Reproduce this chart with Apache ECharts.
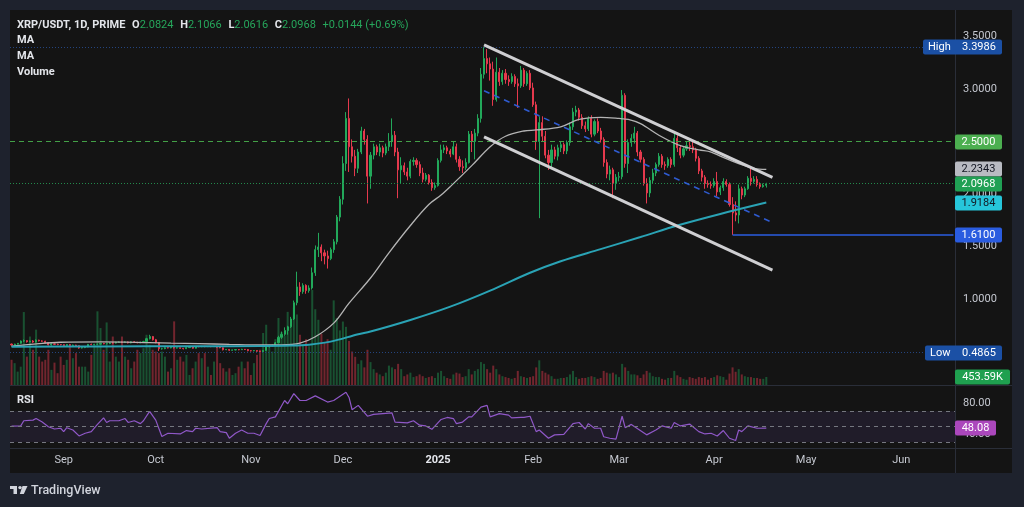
<!DOCTYPE html>
<html><head><meta charset="utf-8">
<script src="https://cdn.jsdelivr.net/npm/echarts@6/dist/echarts.min.js"></script>
<style>
html,body{margin:0;padding:0;background:#1e222d;width:1024px;height:507px;overflow:hidden}
#panel{position:absolute;left:10px;top:10px;width:1002px;height:463px;background:#141414}
#c{position:absolute;left:0;top:0;width:1024px;height:507px}
</style></head><body><div id="panel"></div><div id="c"></div>
<script>
// ---------------- DATA ----------------
const startDate = '2024-08-15';
const totalDays = 308; // categories shown on the time axis (incl. empty future days)
const monthNames = ['Jan','Feb','Mar','Apr','May','Jun','Jul','Aug','Sep','Oct','Nov','Dec'];

// daily candles [open, close, low, high], 2024-08-15 .. 2025-04-18
const ohlc = [
[0.571,0.562,0.556,0.575],[0.562,0.570,0.558,0.574],[0.570,0.578,0.566,0.581],[0.578,0.600,0.574,0.605],
[0.600,0.603,0.592,0.614],[0.603,0.593,0.585,0.607],[0.593,0.600,0.588,0.604],[0.600,0.590,0.583,0.608],
[0.590,0.608,0.586,0.615],[0.608,0.601,0.596,0.612],[0.601,0.598,0.592,0.606],[0.598,0.584,0.578,0.602],
[0.584,0.563,0.558,0.590],[0.563,0.572,0.556,0.578],[0.572,0.569,0.562,0.576],[0.569,0.566,0.560,0.574],
[0.566,0.565,0.558,0.570],
[0.565,0.556,0.550,0.568],[0.556,0.566,0.552,0.570],[0.566,0.557,0.553,0.572],[0.557,0.561,0.551,0.566],
[0.561,0.555,0.548,0.564],[0.555,0.533,0.527,0.558],[0.533,0.537,0.529,0.541],[0.537,0.543,0.532,0.546],
[0.543,0.568,0.540,0.572],[0.568,0.566,0.560,0.575],[0.566,0.569,0.560,0.573],[0.569,0.570,0.563,0.575],
[0.570,0.577,0.566,0.581],[0.577,0.573,0.569,0.582],[0.573,0.575,0.568,0.578],[0.575,0.582,0.570,0.588],
[0.582,0.580,0.575,0.590],[0.580,0.588,0.576,0.592],[0.588,0.590,0.582,0.596],[0.590,0.587,0.580,0.594],
[0.587,0.591,0.583,0.596],[0.591,0.582,0.577,0.595],[0.582,0.592,0.578,0.597],[0.592,0.588,0.584,0.598],
[0.588,0.583,0.578,0.592],[0.583,0.590,0.579,0.594],[0.590,0.594,0.585,0.602],[0.594,0.622,0.590,0.630],
[0.622,0.642,0.615,0.659],[0.642,0.612,0.605,0.648],
[0.612,0.586,0.578,0.620],[0.586,0.526,0.505,0.590],[0.526,0.527,0.518,0.535],[0.527,0.536,0.522,0.540],
[0.536,0.534,0.530,0.541],[0.534,0.538,0.530,0.542],[0.538,0.533,0.528,0.544],[0.533,0.535,0.529,0.540],
[0.535,0.530,0.526,0.538],[0.530,0.527,0.520,0.534],[0.527,0.537,0.523,0.541],[0.537,0.543,0.533,0.547],
[0.543,0.531,0.527,0.546],[0.531,0.547,0.528,0.552],[0.547,0.546,0.540,0.553],[0.546,0.549,0.541,0.554],
[0.549,0.546,0.541,0.553],[0.546,0.548,0.542,0.552],[0.548,0.546,0.541,0.551],[0.546,0.549,0.543,0.552],
[0.549,0.541,0.536,0.553],[0.541,0.536,0.531,0.545],[0.536,0.517,0.510,0.539],[0.517,0.520,0.513,0.524],
[0.520,0.512,0.505,0.523],[0.512,0.515,0.508,0.518],[0.515,0.518,0.511,0.521],[0.518,0.517,0.512,0.523],
[0.517,0.521,0.514,0.526],[0.521,0.519,0.514,0.524],[0.519,0.508,0.502,0.523],
[0.508,0.507,0.500,0.513],[0.507,0.509,0.502,0.512],[0.509,0.503,0.497,0.512],[0.503,0.500,0.4865,0.506],
[0.500,0.510,0.495,0.514],[0.510,0.546,0.507,0.555],[0.546,0.552,0.538,0.558],[0.552,0.560,0.547,0.566],
[0.560,0.583,0.556,0.590],[0.583,0.635,0.578,0.650],[0.635,0.664,0.620,0.690],[0.664,0.700,0.650,0.730],
[0.700,0.735,0.660,0.745],[0.735,0.810,0.725,0.830],[0.810,0.965,0.800,0.985],[0.965,1.115,0.940,1.260],
[1.115,1.070,1.030,1.160],[1.070,1.130,1.050,1.150],[1.130,1.080,1.050,1.140],[1.080,1.105,1.060,1.130],
[1.105,1.250,1.090,1.300],[1.250,1.470,1.220,1.510],[1.470,1.495,1.400,1.630],[1.495,1.440,1.360,1.520],
[1.440,1.410,1.330,1.470],[1.410,1.385,1.290,1.460],[1.385,1.470,1.370,1.490],[1.470,1.545,1.440,1.570],
[1.545,1.780,1.520,1.800],[1.780,1.950,1.740,1.980],
[1.950,2.290,1.900,2.360],[2.290,2.720,2.220,2.780],[2.720,2.450,2.210,2.910],[2.450,2.360,2.300,2.520],
[2.360,2.245,2.170,2.420],[2.245,2.400,2.200,2.430],[2.400,2.600,2.380,2.640],[2.600,2.520,2.470,2.620],
[2.520,2.170,1.910,2.560],[2.170,2.370,2.050,2.400],[2.370,2.450,2.330,2.480],[2.450,2.400,2.370,2.470],
[2.400,2.440,2.360,2.480],[2.440,2.390,2.350,2.460],[2.390,2.450,2.370,2.480],[2.450,2.500,2.410,2.580],
[2.500,2.560,2.450,2.720],[2.560,2.400,2.360,2.600],[2.400,2.230,1.960,2.440],[2.230,2.270,2.100,2.350],
[2.270,2.210,2.180,2.300],[2.210,2.170,2.130,2.250],[2.170,2.310,2.150,2.330],[2.310,2.320,2.270,2.350],
[2.320,2.280,2.250,2.340],[2.280,2.200,2.170,2.310],[2.200,2.140,2.110,2.250],[2.140,2.180,2.120,2.200],
[2.180,2.110,2.090,2.190],[2.110,2.060,2.030,2.140],[2.060,2.080,2.040,2.110],
[2.080,2.320,2.070,2.340],[2.320,2.420,2.300,2.470],[2.420,2.440,2.390,2.470],[2.440,2.410,2.380,2.460],
[2.410,2.380,2.350,2.430],[2.380,2.450,2.370,2.500],[2.450,2.330,2.300,2.480],[2.330,2.260,2.220,2.360],
[2.260,2.250,2.200,2.320],[2.250,2.300,2.230,2.340],[2.300,2.570,2.290,2.600],[2.570,2.500,2.400,2.600],
[2.500,2.580,2.330,2.620],[2.580,2.720,2.550,2.760],[2.720,3.140,2.680,3.200],[3.140,3.290,3.100,3.3986],
[3.290,3.240,3.150,3.380],[3.240,3.190,3.080,3.300],[3.190,2.900,2.840,3.260],[2.900,3.160,2.880,3.300],
[3.160,3.070,3.030,3.200],[3.070,3.150,3.040,3.180],[3.150,3.090,3.050,3.190],[3.090,3.070,3.030,3.130],
[3.070,3.120,3.050,3.150],[3.120,3.050,3.020,3.140],[3.050,3.030,2.820,3.100],[3.030,3.180,3.010,3.220],
[3.180,3.050,3.020,3.200],[3.050,3.150,3.030,3.170],[3.150,3.010,2.990,3.180],
[3.010,2.850,2.830,3.060],[2.850,2.500,2.420,2.880],[2.500,2.680,1.770,2.740],[2.680,2.550,2.500,2.740],
[2.550,2.370,2.340,2.600],[2.370,2.300,2.230,2.420],[2.300,2.420,2.240,2.470],[2.420,2.360,2.330,2.450],
[2.360,2.440,2.320,2.470],[2.440,2.470,2.400,2.500],[2.470,2.410,2.380,2.490],[2.410,2.490,2.380,2.510],
[2.490,2.640,2.460,2.680],[2.640,2.780,2.610,2.820],[2.780,2.800,2.740,2.840],[2.800,2.730,2.700,2.820],
[2.730,2.650,2.620,2.760],[2.650,2.620,2.590,2.690],[2.620,2.720,2.600,2.740],[2.720,2.570,2.540,2.750],
[2.570,2.690,2.550,2.710],[2.690,2.600,2.580,2.720],[2.600,2.520,2.490,2.630],[2.520,2.300,2.260,2.540],
[2.300,2.190,2.150,2.330],[2.190,2.230,2.130,2.270],[2.230,2.100,1.960,2.250],[2.100,2.160,2.040,2.190],
[2.160,2.165,2.120,2.210],[2.165,2.940,2.140,2.990],[2.940,2.290,2.250,2.960],[2.290,2.490,2.200,2.520],
[2.490,2.530,2.450,2.570],[2.530,2.580,2.480,2.640],[2.580,2.400,2.360,2.600],[2.400,2.330,2.300,2.420],
[2.330,2.100,2.080,2.350],[2.100,2.010,1.910,2.150],[2.010,2.130,1.970,2.160],[2.130,2.200,2.100,2.240],
[2.200,2.280,2.170,2.300],[2.280,2.360,2.260,2.390],[2.360,2.280,2.250,2.380],[2.280,2.270,2.230,2.310],
[2.270,2.330,2.250,2.350],[2.330,2.280,2.250,2.350],[2.280,2.530,2.260,2.590],[2.530,2.440,2.400,2.560],
[2.440,2.370,2.340,2.460],[2.370,2.430,2.350,2.450],[2.430,2.460,2.410,2.500],[2.460,2.450,2.410,2.530],
[2.450,2.420,2.390,2.500],[2.420,2.340,2.310,2.440],[2.340,2.220,2.190,2.360],[2.220,2.160,2.120,2.240],
[2.160,2.100,2.050,2.180],[2.100,2.090,2.060,2.130],[2.090,2.080,2.050,2.120],
[2.080,2.120,2.060,2.150],[2.120,2.020,1.980,2.210],[2.020,2.060,1.990,2.080],[2.060,2.120,2.030,2.150],
[2.120,2.090,2.070,2.140],[2.090,1.900,1.880,2.110],[1.900,1.820,1.610,1.970],[1.820,1.800,1.740,1.930],
[1.800,2.050,1.720,2.090],[2.050,1.990,1.950,2.070],[1.990,2.050,1.970,2.070],[2.050,2.150,2.040,2.170],
[2.150,2.120,2.080,2.250],[2.120,2.140,2.100,2.170],[2.140,2.090,2.070,2.170],[2.090,2.070,2.050,2.110],
[2.070,2.0824,2.060,2.100],[2.0824,2.0968,2.0616,2.1066]
];

// daily volume, thousands
const volumeK = [
1430,1240,760,1040,4140,1610,2750,2000,3140,1610,1330,1430,2000,860,1270,670,1610,
1140,1430,2280,1520,1810,1040,1040,1040,760,1710,2280,4180,3230,2000,3550,1330,2750,1610,1330,2750,1610,1430,950,1330,2000,1810,2090,2850,2280,2000,
1900,1810,1900,1610,760,950,3610,1430,1610,1330,1710,570,950,1330,1810,1520,1810,1040,570,1330,2180,1240,950,760,950,570,670,1040,1330,950,1330,
570,1240,1710,2000,2950,3420,2300,1900,2600,3800,3000,2800,4150,3300,4400,4000,2850,2300,2600,2200,5400,4300,3700,2900,2400,2600,2000,4800,3800,3100,
3600,3300,2500,1900,1600,1200,1400,1000,2000,1300,900,700,600,500,700,1100,1000,900,1200,900,500,600,700,450,500,600,500,400,450,500,400,
700,800,500,400,350,600,700,650,450,500,900,600,800,900,1300,1200,900,700,1100,900,600,500,450,400,350,400,800,500,450,400,450,
500,1000,1400,800,700,600,500,350,350,400,400,450,600,800,450,350,400,400,450,500,450,350,400,800,700,650,700,600,
450,1200,1000,800,600,600,550,400,600,800,700,500,450,450,350,300,400,400,800,550,450,350,300,450,400,350,450,400,450,300,400,
450,550,500,450,300,650,1000,750,900,600,500,450,450,400,400,350,350,453.59
];

// moving averages: day offset from start, value
const maFastDay = [0,9,16,29,45,52,61,71,81,88,94,99,105,110,117,123,130,136,140,143,150,156,161,167,171,179,185,192,198,201,205,211,218,224,228,231,237,242,246];
const maFastVal = [0.55,0.575,0.588,0.592,0.585,0.58,0.575,0.568,0.562,0.563,0.58,0.64,0.77,0.96,1.20,1.44,1.70,1.90,1.99,2.07,2.27,2.45,2.55,2.60,2.61,2.64,2.71,2.73,2.72,2.71,2.67,2.56,2.46,2.42,2.40,2.36,2.29,2.245,2.2343];
const maSlowDay = [0,29,61,81,91,97,104,113,117,130,143,156,169,179,192,205,217,231,246];
const maSlowVal = [0.545,0.548,0.55,0.552,0.556,0.565,0.594,0.665,0.69,0.80,0.927,1.08,1.25,1.36,1.475,1.59,1.70,1.81,1.9184];

// RSI(14)
const rsiDay = [0,3,4,7,8,10,12,14,16,17,18,20,22,24,26,28,30,31,32,35,37,38,40,42,43,45,47,49,51,55,57,59,60,62,67,68,70,71,73,75,77,79,81,83,84,86,89,90,92,94,96,99,103,105,109,110,111,113,116,118,124,125,129,131,133,135,137,140,142,144,145,147,149,150,153,155,156,159,161,162,163,166,167,169,171,172,175,177,180,183,185,187,188,190,192,193,195,197,199,200,202,207,210,212,215,216,218,221,224,226,228,230,232,234,236,237,238,240,243,246];
const rsiVal = [50.8,51,57.7,58.5,60.6,56,50,47,48,43.6,48.7,45.7,38,41.5,43.6,53,61.5,55.5,57.7,57.7,60.6,55.5,57.7,54,57.7,70,58.5,37.2,41.5,40.6,45,43.6,48,47,48.7,43.6,42.3,35,41.5,45.7,41.5,41.5,38.5,54,60.6,62.8,84,79.8,93,84,84,90,82,84,94.7,88,72,77.7,63.6,66,68,56,55,57.7,52,51,46.6,59.4,62,60.6,54,56,62.8,62.8,75.5,77.7,62.8,67,65.7,65,61.5,62,62,63.6,43.6,45.7,35,39.4,40,54,55.5,47,54,48,48,37,35,33.8,63.6,48.7,53,39.4,45.7,51,48,55.5,51,53.4,43.6,40.6,41.5,38,45,35,32,45.7,43.6,51,48,48.08];
const rsiBands = [70, 50, 30];

// drawn lines and levels
const channelUpper = [['2025-01-16', 3.42], ['2025-04-20', 2.159]];
const channelLower = [['2025-01-16', 2.543], ['2025-04-20', 1.276]];
const channelMid   = [['2025-01-16', 2.984], ['2025-04-20', 1.727]];
const resistanceLevel = 2.5;
const supportLevel = 1.61;
const supportFrom = '2025-04-07';

// ---------------- BUILD ----------------
const dates = [];
{
  const t0 = Date.UTC(2024, 7, 15);
  for (let i = 0; i < totalDays; i++) dates.push(new Date(t0 + i * 86400000).toISOString().slice(0, 10));
}
const UP = '#22a85a', DN = '#e5394d';
const VUP = 'rgba(34,168,90,0.42)', VDN = 'rgba(229,57,77,0.45)';
const last = ohlc[ohlc.length - 1];
const lastClose = last[1];
const highMax = Math.max(...ohlc.map(r => r[3]));
const lowMin = Math.min(...ohlc.map(r => r[2]));
const FONT = 'Roboto, "Noto Sans", sans-serif';

const volData = volumeK.map((v, i) => ({ value: v, itemStyle: { color: ohlc[i][1] >= ohlc[i][0] ? VUP : VDN } }));
const maFastData = maFastDay.map((d, i) => [dates[d], maFastVal[i]]);
const maSlowData = maSlowDay.map((d, i) => [dates[d], maSlowVal[i]]);
const rsiData = rsiDay.map((d, i) => [dates[d], rsiVal[i]]);

const priceMax = 3.7524, volMax = 5390;
const GL = 10, GR = 69;
const hidden = { show: false };

const chart = echarts.init(document.getElementById('c'), null, { width: 1024, height: 507 });
const option = {
  animation: false,
  backgroundColor: 'transparent',
  textStyle: { fontFamily: FONT },
  grid: [
    { left: GL, right: GR, top: 10, height: 394, outerBoundsMode: 'none' },
    { left: GL, right: GR, top: 290, height: 95, outerBoundsMode: 'none' },
    { left: GL, right: GR, top: 388.2, height: 77, outerBoundsMode: 'none' },
    { left: GL, right: GR, top: 448, height: 1, outerBoundsMode: 'none' }
  ],
  xAxis: [0, 1, 2, 3].map(i => ({
    type: 'category', gridIndex: i, data: dates, boundaryGap: true,
    axisLine: hidden, axisTick: hidden, splitLine: hidden,
    axisLabel: i === 3 ? {
      show: true, margin: 6, color: '#c5c8d0', fontSize: 11, fontFamily: FONT,
      interval: (idx, val) => val.slice(8) === '01',
      formatter: val => { const m = +val.slice(5, 7); return m === 1 ? '{y|' + val.slice(0, 4) + '}' : monthNames[m - 1]; },
      rich: { y: { fontWeight: 'bold', color: '#e6e8ee', fontSize: 11, fontFamily: FONT } }
    } : hidden
  })),
  yAxis: [
    { gridIndex: 0, position: 'right', min: 0, max: priceMax, interval: 0.5,
      axisLine: hidden, axisTick: hidden, splitLine: hidden,
      axisLabel: { margin: 8, color: '#c5c8d0', fontSize: 11, fontFamily: FONT,
        formatter: v => (v >= 0.99 && Math.abs(v * 2 - Math.round(v * 2)) < 1e-6) ? v.toFixed(4) : '' } },
    { gridIndex: 1, min: 0, max: volMax, show: false },
    { gridIndex: 2, position: 'right', min: 0, max: 100, interval: 40,
      axisLine: hidden, axisTick: hidden, splitLine: hidden,
      axisLabel: { margin: 8, color: '#c5c8d0', fontSize: 11, fontFamily: FONT,
        formatter: v => (v === 40 || v === 80) ? v.toFixed(2) : '' } },
    { gridIndex: 3, min: 0, max: 1, show: false }
  ],
  series: [
    { type: 'bar', name: 'Volume', xAxisIndex: 1, yAxisIndex: 1, data: volData, barWidth: 2, z: 1, silent: true },
    { type: 'candlestick', name: 'XRP/USDT', xAxisIndex: 0, yAxisIndex: 0, data: ohlc, barWidth: 1.6, z: 3, silent: true,
      itemStyle: { color: UP, color0: DN, borderColor: UP, borderColor0: DN, borderColorDoji: UP, borderWidth: 1 },
      markLine: { silent: true, symbol: ['none', 'none'], label: { show: false }, animation: false,
        data: [
          { yAxis: highMax, lineStyle: { color: '#24447e', type: [1, 2], width: 1 } },
          { yAxis: lowMin, lineStyle: { color: '#24447e', type: [1, 2], width: 1 } },
          { yAxis: resistanceLevel, lineStyle: { color: '#43a047', type: [5, 4], width: 1 } },
          { yAxis: lastClose, lineStyle: { color: '#238a4c', type: [1, 2], width: 1 } },
          [{ coord: [supportFrom, supportLevel], lineStyle: { color: '#2a5ce0', type: 'solid', width: 1.5 } },
           { coord: [dates[totalDays - 1], supportLevel] }]
        ] } },
    { type: 'line', name: 'MA', xAxisIndex: 0, yAxisIndex: 0, data: maFastData, smooth: 0.35, symbol: 'none', z: 4, silent: true,
      lineStyle: { color: '#b4b4b4', width: 1.3 } },
    { type: 'line', name: 'MA', xAxisIndex: 0, yAxisIndex: 0, data: maSlowData, smooth: 0.35, symbol: 'none', z: 4, silent: true,
      lineStyle: { color: '#2aa3b5', width: 2 } },
    { type: 'line', xAxisIndex: 0, yAxisIndex: 0, data: channelUpper, symbol: 'none', z: 6, silent: true,
      lineStyle: { color: '#cfcfd2', width: 3 } },
    { type: 'line', xAxisIndex: 0, yAxisIndex: 0, data: channelLower, symbol: 'none', z: 6, silent: true,
      lineStyle: { color: '#cfcfd2', width: 3 } },
    { type: 'line', xAxisIndex: 0, yAxisIndex: 0, data: channelMid, symbol: 'none', z: 6, silent: true,
      lineStyle: { color: '#2f5bd0', width: 1.6, type: [6, 5] } },
    { type: 'line', name: 'RSI', xAxisIndex: 2, yAxisIndex: 2, data: rsiData, symbol: 'none', z: 4, silent: true,
      lineStyle: { color: '#9058c8', width: 1.2 },
      markArea: { silent: true, itemStyle: { color: 'rgba(126,87,194,0.12)' }, data: [[{ yAxis: 30 }, { yAxis: 70 }]] },
      markLine: { silent: true, symbol: ['none', 'none'], label: { show: false },
        lineStyle: { color: '#75777f', type: [4, 4], width: 1 }, data: rsiBands.map(v => ({ yAxis: v })) } }
  ]
};
chart.setOption(option);

// ---------- overlay texts / axis labels ----------
const py = v => chart.convertToPixel({ yAxisIndex: 0 }, v);
const vy = v => chart.convertToPixel({ yAxisIndex: 1 }, v);
const ry = v => chart.convertToPixel({ yAxisIndex: 2 }, v);
function txt(x, y, text, fill, font, align) {
  return { type: 'text', z: 110, silent: true,
    style: { x, y, text, fill, font, textAlign: align || 'left', align: align || 'left', textVerticalAlign: 'middle', verticalAlign: 'middle' } };
}
function box(y, text, bg, fg, x0, w, prefix) {
  x0 = x0 || 955; w = w || 47;
  const els = [{ type: 'rect', z: 105, silent: true, shape: { x: x0, y: Math.round(y) - 7.5, width: w, height: 15, r: 2 }, style: { fill: bg } }];
  if (prefix) {
    els.push(txt(x0 + 5, Math.round(y) + 0.5, prefix, fg, '11px ' + FONT, 'left'));
    els.push(txt(979, Math.round(y) + 0.5, text, fg, '11px ' + FONT, 'center'));
  } else {
    els.push(txt(x0 + w / 2, Math.round(y) + 0.5, text, fg, '11px ' + FONT, 'center'));
  }
  return els;
}
const change = lastClose - last[0];
const pct = change / last[0] * 100;
const header = {
  type: 'text', z: 110, silent: true,
  style: { x: 17, y: 25, textVerticalAlign: 'middle', verticalAlign: 'middle',
    text: '{t|XRP/USDT, 1D, PRIME}  {w|O}{g|' + last[0].toFixed(4) + '}  {w|H}{g|' + last[3].toFixed(4) + '}  {w|L}{g|' + last[2].toFixed(4) +
          '}  {w|C}{g|' + lastClose.toFixed(4) + '}  {g|+' + change.toFixed(4) + ' (+' + pct.toFixed(2) + '%)}',
    rich: {
      t: { fill: '#e3e5ea', font: 'bold 11px ' + FONT },
      w: { fill: '#e3e5ea', font: 'bold 11px ' + FONT },
      g: { fill: '#26a65b', font: '11px ' + FONT }
    } }
};
const sep = '#2a2e39';
const graphics = [
  { type: 'line', z: 100, silent: true, shape: { x1: 955.5, y1: 10, x2: 955.5, y2: 473 }, style: { stroke: sep, lineWidth: 1 } },
  { type: 'line', z: 100, silent: true, shape: { x1: 10, y1: 385.5, x2: 1012, y2: 385.5 }, style: { stroke: sep, lineWidth: 1 } },
  { type: 'line', z: 100, silent: true, shape: { x1: 10, y1: 448.5, x2: 1012, y2: 448.5 }, style: { stroke: sep, lineWidth: 1 } },
  header,
  txt(17, 40, 'MA', '#e3e5ea', 'bold 11px ' + FONT),
  txt(17, 56, 'MA', '#e3e5ea', 'bold 11px ' + FONT),
  txt(17, 72, 'Volume', '#e3e5ea', 'bold 11px ' + FONT),
  txt(17, 400, 'RSI', '#e3e5ea', 'bold 11px ' + FONT),
  ...box(py(highMax), highMax.toFixed(4), '#1b50a5', '#ffffff', 923, 79, 'High'),
  ...box(py(resistanceLevel), resistanceLevel.toFixed(4), '#4caf50', '#ffffff'),
  ...box(py(maFastVal[maFastVal.length - 1]), maFastVal[maFastVal.length - 1].toFixed(4), '#b9bbc2', '#131722'),
  ...box(py(lastClose), lastClose.toFixed(4), '#20a054', '#ffffff'),
  ...box(py(maSlowVal[maSlowVal.length - 1]), maSlowVal[maSlowVal.length - 1].toFixed(4), '#26c6da', '#131722'),
  ...box(py(supportLevel), supportLevel.toFixed(4), '#2a5ce0', '#ffffff'),
  ...box(py(lowMin), lowMin.toFixed(4), '#1b50a5', '#ffffff', 925, 77, 'Low'),
  ...box(vy(volumeK[volumeK.length - 1]), volumeK[volumeK.length - 1].toFixed(2) + 'K', '#1fa04f', '#ffffff', 955, 55),
  ...box(ry(rsiVal[rsiVal.length - 1]), rsiVal[rsiVal.length - 1].toFixed(2), '#ab47bc', '#ffffff', 955, 41),
  // TradingView logo
  { type: 'rect', z: 110, silent: true, shape: { x: 10, y: 486, width: 7, height: 3 }, style: { fill: '#d1d4dc' } },
  { type: 'rect', z: 110, silent: true, shape: { x: 13.5, y: 486, width: 3.5, height: 8 }, style: { fill: '#d1d4dc' } },
  { type: 'circle', z: 110, silent: true, shape: { cx: 20, cy: 487.6, r: 1.7 }, style: { fill: '#d1d4dc' } },
  { type: 'polygon', z: 110, silent: true, shape: { points: [[22.5, 486], [27.5, 486], [23.8, 494], [19.8, 494]] }, style: { fill: '#d1d4dc' } },
  txt(31, 491, 'TradingView', '#d1d4dc', '500 12.5px ' + FONT)
];
chart.setOption({ graphic: graphics });
</script>
</body></html>
